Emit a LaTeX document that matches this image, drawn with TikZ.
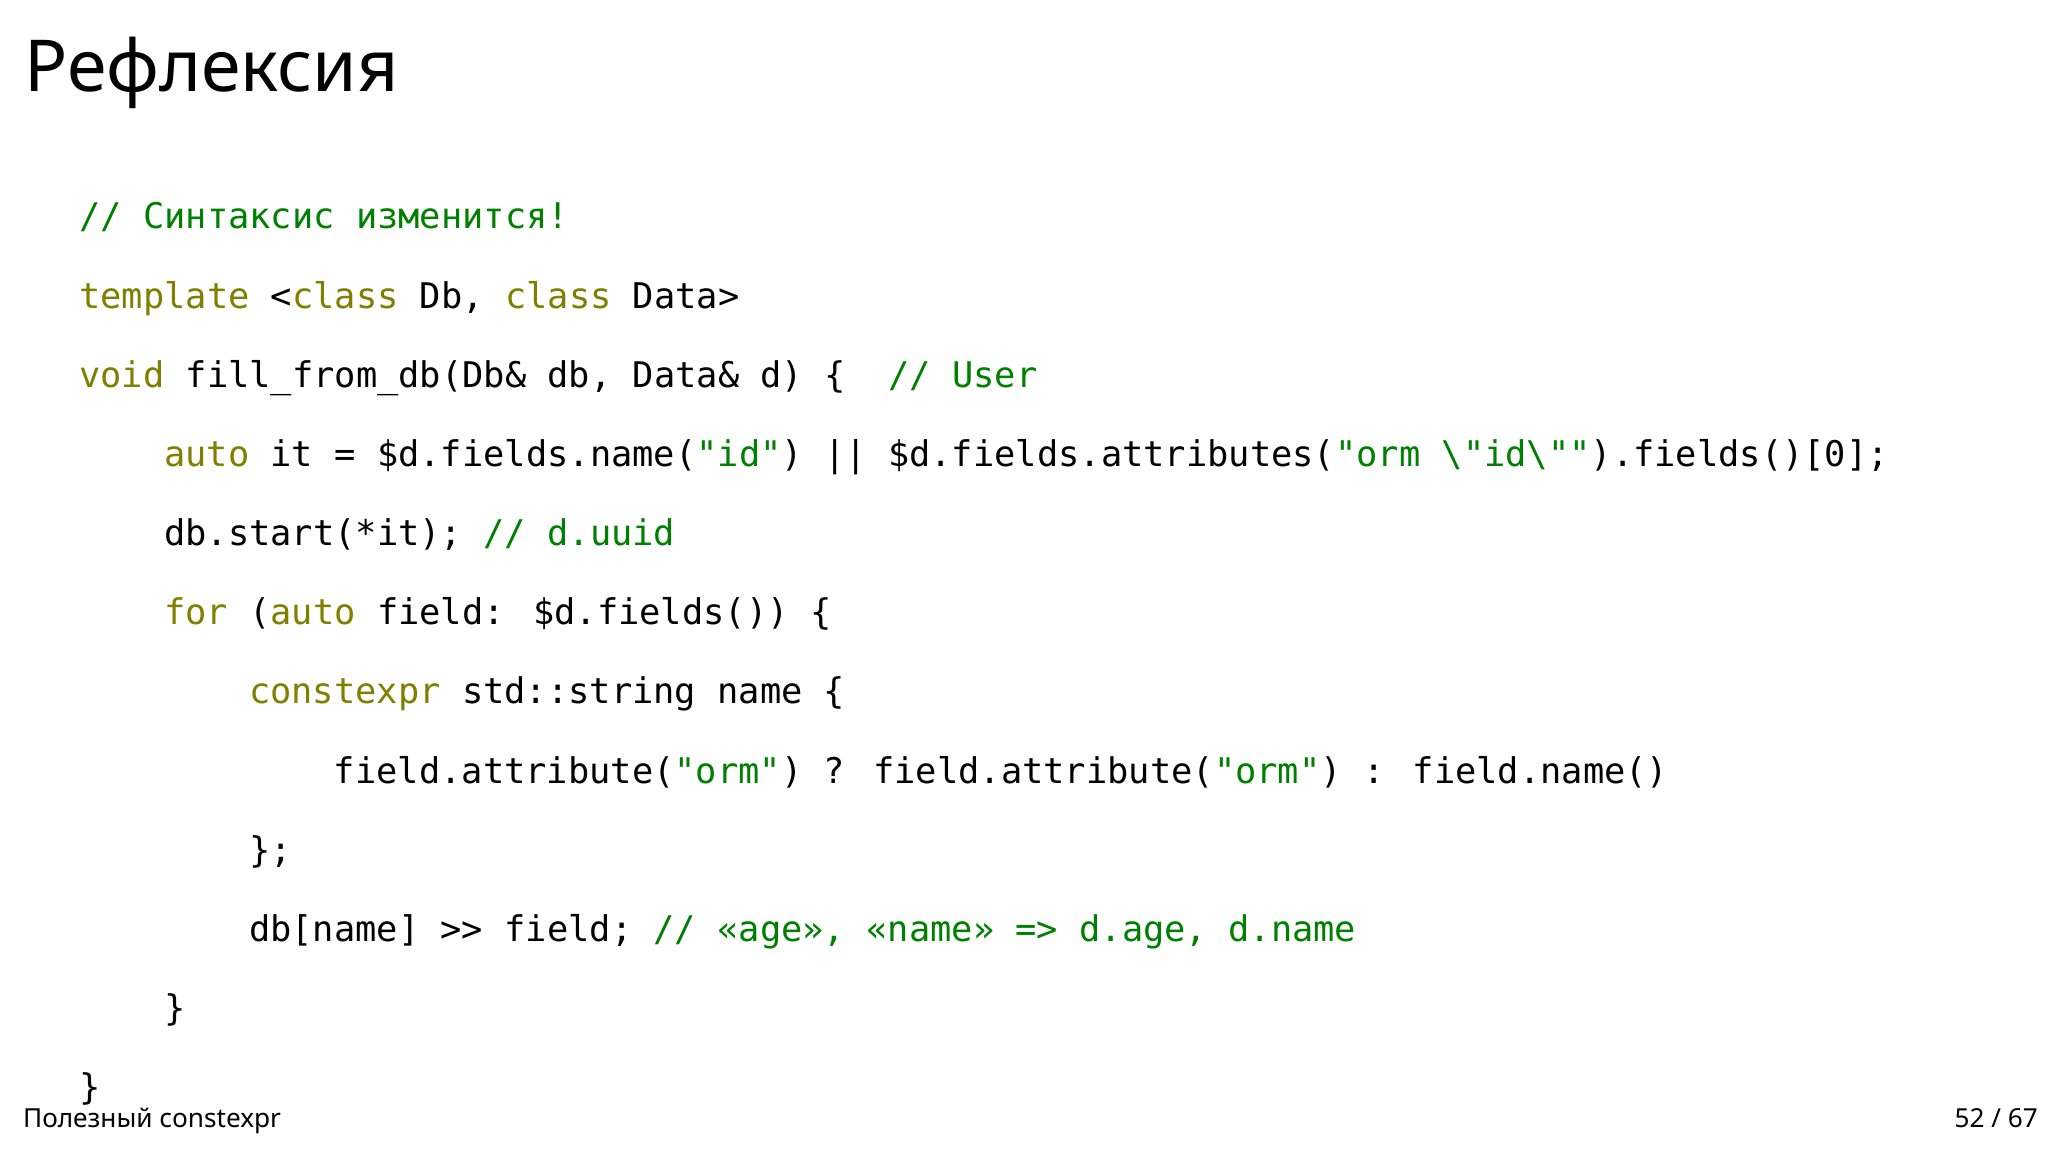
\documentclass[tikz,border=0pt]{standalone}
\usepackage{fontspec}
\setmainfont{Noto Sans}
\newfontfamily\code{DejaVu Sans Mono}
\definecolor{kw}{HTML}{808000}
\definecolor{cm}{HTML}{008000}
\begin{document}
\begin{tikzpicture}[x=0.01cm,y=-0.01cm,
  ln/.style={anchor=base west,inner sep=0pt,font=\code\fontsize{7.7pt}{9pt}\selectfont}]
\useasboundingbox[fill=white] (0,0) rectangle (1568,882);
\node[anchor=base west,inner sep=0pt,font=\fontsize{15.6pt}{18pt}\selectfont\bfseries] (title) at (18,70) {Рефлексия};
\def\K#1{\textcolor{kw}{#1}}\def\C#1{\textcolor{cm}{#1}}
\node[ln] (l1) at (60,175) {\C{// Синтаксис изменится!}};
\node[ln] (l2) at (60,236) {\K{template} <\K{class} Db, \K{class} Data>};
\node[ln] (l3) at (60,297) {\K{void} fill\_from\_db(Db\& db, Data\& d) \{ \ \C{// User}};
\node[ln] (l4) at (125,357) {\K{auto} it = \$d.fields.name(\C{"id"}) || \$d.fields.attributes(\C{"orm \textbackslash"id\textbackslash""}).fields()[0];};
\node[ln] (l5) at (125,418) {db.start(*it); \C{// d.uuid}};
\node[ln] (l6) at (125,478) {\K{for} (\K{auto} field: \$d.fields()) \{};
\node[ln] (l7) at (190,539) {\K{constexpr} std::string name \{};
\node[ln] (l8) at (255,600) {field.attribute(\C{"orm"}) ? field.attribute(\C{"orm"}) : field.name()};
\node[ln] (l9) at (190,660) {\};};
\node[ln] (l10) at (190,721) {db[name] >> field; \C{// «age», «name» => d.age, d.name}};
\node[ln] (l11) at (125,781) {\}};
\node[ln] (l12) at (60,842) {\}};
\node[anchor=base west,inner sep=0pt,font=\fontsize{5.7pt}{7pt}\selectfont] (foot) at (17,863) {Полезный constexpr};
\node[anchor=base east,inner sep=0pt,font=\fontsize{5.7pt}{7pt}\selectfont] (page) at (1561,863) {52 / 67};
\end{tikzpicture}
\end{document}
